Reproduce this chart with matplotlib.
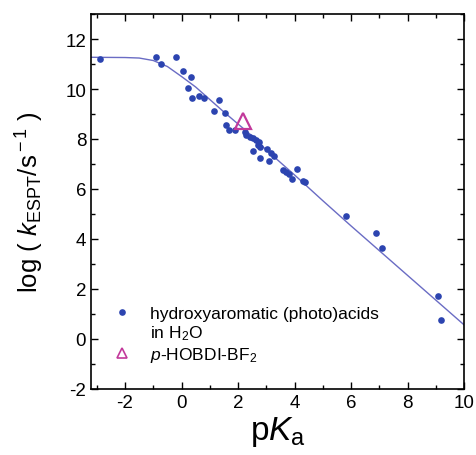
import matplotlib
matplotlib.use('Agg')
import matplotlib.pyplot as plt
from matplotlib.lines import Line2D
from matplotlib.ticker import MultipleLocator

plt.rcParams['font.family'] = ['Liberation Sans', 'DejaVu Sans']
plt.rcParams['mathtext.fontset'] = 'custom'
plt.rcParams['mathtext.rm'] = 'Liberation Sans'
plt.rcParams['mathtext.it'] = 'Liberation Sans:italic'
plt.rcParams['axes.unicode_minus'] = False

# hydroxyaromatic (photo)acids in water
acid_pka = [-2.88, -0.91, -0.72, -0.21, 0.05, 0.35, 0.22, 0.37, 0.61, 0.78,
            1.34, 1.16, 1.55, 1.59, 1.68, 1.88, 2.23, 2.29, 2.41, 2.53,
            2.65, 2.74, 2.70, 2.76, 2.53, 2.76, 3.02, 3.17, 3.26, 3.11,
            3.58, 3.70, 3.82, 4.09, 3.91, 4.29, 4.38, 5.83, 6.89, 7.10,
            9.09, 9.17]
acid_logk = [11.19, 11.27, 10.99, 11.30, 10.73, 10.50, 10.05, 9.66, 9.72, 9.64,
             9.58, 9.13, 9.04, 8.54, 8.34, 8.34, 8.28, 8.14, 8.08, 8.04,
             7.94, 7.88, 7.74, 7.68, 7.51, 7.25, 7.61, 7.45, 7.32, 7.12,
             6.77, 6.68, 6.61, 6.79, 6.41, 6.31, 6.26, 4.93, 4.23, 3.62,
             1.73, 0.77]

# p-HOBDI-BF2
bf2_pka = [2.17]
bf2_logk = [8.70]

# fit curve
fit_pka = [-3.2, -2.0, -1.5, -1.0, -0.5, 0.0, 0.5, 1.0, 1.5, 2.0,
           2.5, 3.0, 4.0, 5.0, 6.0, 7.0, 8.0, 9.0, 10.0]
fit_logk = [11.27, 11.26, 11.24, 11.14, 10.90, 10.50, 10.08, 9.58, 9.08, 8.60,
            8.12, 7.56, 6.56, 5.53, 4.52, 3.53, 2.54, 1.55, 0.56]

fig = plt.figure(figsize=(4.77, 4.56), dpi=100)
ax = fig.add_axes([0.191, 0.145, 0.782, 0.822])

ax.plot(fit_pka, fit_logk, '-', color='#6a6cc4', lw=1.0, zorder=1)
ax.plot(acid_pka, acid_logk, 'o', color='#2c44b0', ms=4.8, mec='none', zorder=2)
ax.plot(bf2_pka, bf2_logk, '^', mfc='none', mec='#c2399b', mew=1.6, ms=11, zorder=3)

ax.set_xlim(-3.2, 10)
ax.set_ylim(-2, 13)
ax.xaxis.set_major_locator(MultipleLocator(2))
ax.xaxis.set_minor_locator(MultipleLocator(1))
ax.yaxis.set_major_locator(MultipleLocator(2))
ax.yaxis.set_minor_locator(MultipleLocator(1))
ax.tick_params(which='both', direction='in', top=True, right=True, labelsize=13.5, width=1)
ax.tick_params(which='major', length=5)
ax.tick_params(which='minor', length=3)
for s in ax.spines.values():
    s.set_linewidth(1.2)

ax.set_xlabel('p$K_{\\rm a}$', fontsize=24, labelpad=2)
ax.set_ylabel('log ( $k_{\\rm ESPT}$/s$^{\\rm -1}$ )', fontsize=18.5, labelpad=14)

handles = [
    Line2D([], [], marker='o', ls='none', color='#2c44b0', ms=4.8, mec='none'),
    Line2D([], [], ls='none', marker=None),
    Line2D([], [], marker='^', ls='none', mfc='none', mec='#c2399b', mew=1.2, ms=7),
]
labels = ['hydroxyaromatic (photo)acids', 'in H$_2$O', '$p$-HOBDI-BF$_2$']
ax.legend(handles, labels, loc='upper left', bbox_to_anchor=(0.06, 0.222),
          frameon=False, fontsize=12.5, handlelength=1.0, handletextpad=1.1,
          labelspacing=0.15, borderpad=0, borderaxespad=0)

fig.savefig('out.png', dpi=100)
